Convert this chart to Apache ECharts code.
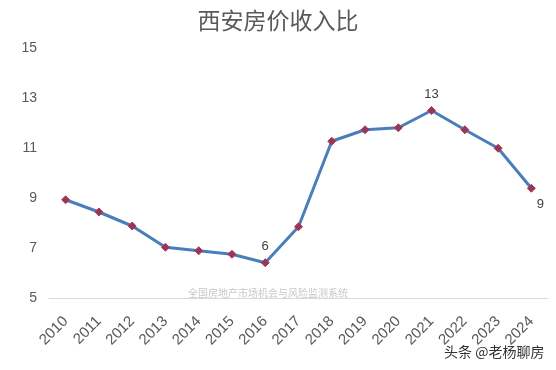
<!DOCTYPE html>
<html><head><meta charset="utf-8">
<script src="https://cdn.jsdelivr.net/npm/echarts@6/dist/echarts.min.js"></script>
<style>html,body{margin:0;padding:0;background:#fff}#c{width:556px;height:370px}</style>
</head><body><div id="c"></div>
<script>
const years = ['2010','2011','2012','2013','2014','2015','2016','2017','2018','2019','2020','2021','2022','2023','2024'];
const ratio = [8.93,8.44,7.88,7.03,6.89,6.75,6.41,7.85,11.27,11.73,11.81,12.5,11.73,10.99,9.39];
const yTicks = [5,7,9,11,13,15];
const labeledYears = {'2016':'top','2021':'top','2024':'bottom'};

const data = ratio.map((v,i)=>{
  const pos = labeledYears[years[i]];
  const d = {value:v};
  if(pos){
    d.label = {show:true, position:pos, formatter:()=>String(Math.round(v)),
      offset: pos==='bottom' ? [9,0] : [0,0]};
  }
  return d;
});

const chart = echarts.init(document.getElementById('c'));
chart.setOption({
  animation:false,
  title:{text:'西安房价收入比', left:'center', top:4,
    textStyle:{fontFamily:'Noto Sans CJK SC', fontSize:23, fontWeight:'normal', color:'#595959'}},
  grid:{left:49, right:8, top:48, bottom:72},
  xAxis:{type:'category', data:years, boundaryGap:true,
    axisLine:{lineStyle:{color:'#d9d9d9', width:1}},
    axisTick:{show:false},
    axisLabel:{rotate:45, fontSize:15, color:'#595959', fontFamily:'Liberation Sans', margin:21, interval:0}},
  yAxis:{type:'value', min:yTicks[0], max:yTicks[yTicks.length-1], interval:2,
    splitLine:{show:false}, axisLine:{show:false}, axisTick:{show:false},
    axisLabel:{fontSize:14, color:'#595959', fontFamily:'Liberation Sans', margin:12}},
  series:[{type:'line', data:data,
    lineStyle:{color:'#4a7ebb', width:3},
    symbol:'diamond', symbolSize:8,
    itemStyle:{color:'#8e3a5c', borderColor:'#c0304f', borderWidth:1},
    label:{show:false, fontSize:13, color:'#404040', fontFamily:'Liberation Sans'}}],
  graphic:[
    {type:'text', left:188, top:288, style:{text:'全国房地产市场机会与风险监测系统', fontSize:10, fill:'#c8c8c8', fontFamily:'Noto Sans CJK SC'}},
    {type:'text', left:443, top:344, style:{text:'头条 @老杨聊房', fontSize:14, fill:'#333', fontFamily:'Noto Sans CJK SC', stroke:'#fff', lineWidth:2}}
  ]
});
</script></body></html>
